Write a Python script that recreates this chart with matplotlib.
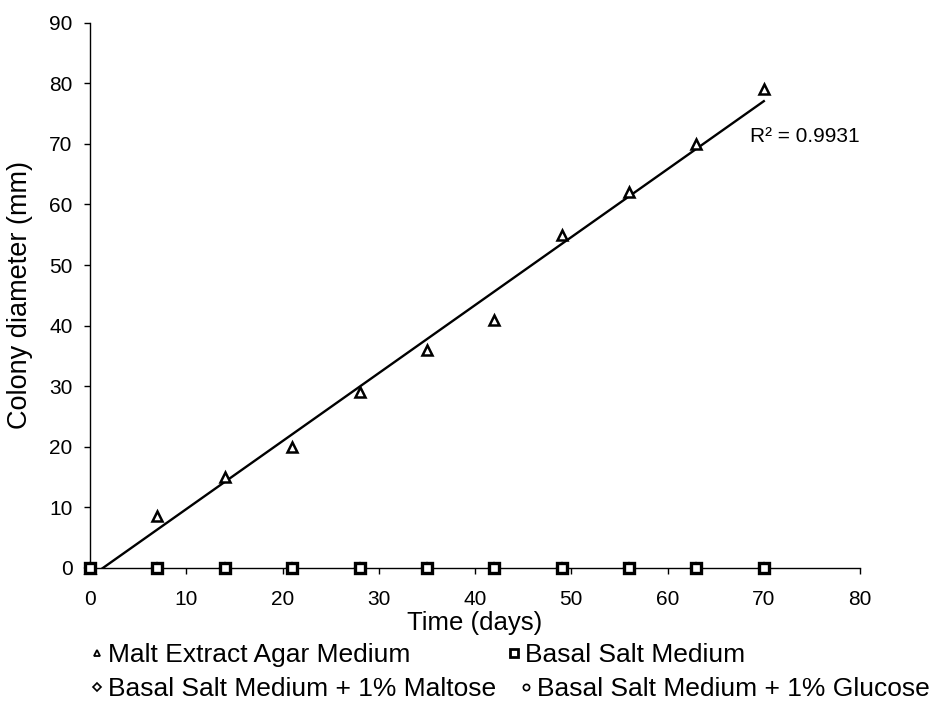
import numpy as np
import matplotlib.pyplot as plt
from matplotlib.lines import Line2D

plt.rcParams['font.family'] = ['Liberation Sans', 'DejaVu Sans']

days = [0, 7, 14, 21, 28, 35, 42, 49, 56, 63, 70]
mea = [0, 8.5, 15, 20, 29, 36, 41, 55, 62, 70, 79]
basal = [0, 0, 0, 0, 0, 0, 0, 0, 0, 0, 0]
maltose = [0, 0, 0, 0, 0, 0, 0, 0, 0, 0, 0]
glucose = [0, 0, 0, 0, 0, 0, 0, 0, 0, 0, 0]

labels = ['Malt Extract Agar Medium', 'Basal Salt Medium',
          'Basal Salt Medium + 1% Maltose', 'Basal Salt Medium + 1% Glucose']

fig = plt.figure(figsize=(9.37, 7.13), dpi=100)
ax = fig.add_axes([0.0961, 0.2034, 0.8218, 0.7648])

# linear trend line for malt extract agar
slope, intercept = np.polyfit(days, mea, 1)
tx = np.array([0, 70])
ax.plot(tx, slope * tx + intercept, color='black', lw=1.7, zorder=2)

ax.plot(days, mea, linestyle='none', marker='^', ms=7, mfc='white',
        mec='black', mew=1.8, zorder=3, clip_on=False)
ax.plot(days, maltose, linestyle='none', marker='D', ms=5, mfc='white',
        mec='black', mew=1.5, zorder=3, clip_on=False)
ax.plot(days, glucose, linestyle='none', marker='o', ms=5, mfc='white',
        mec='black', mew=1.5, zorder=3, clip_on=False)
ax.plot(days, basal, linestyle='none', marker='s', ms=7.5, mfc='white',
        mec='black', mew=2.4, zorder=4, clip_on=False)

ax.text(68.6, 70.3, 'R² = 0.9931', fontsize=15, va='baseline')

ax.set_xlim(0, 80)
ax.set_ylim(0, 90)
ax.set_xticks(range(0, 81, 10))
ax.set_yticks(range(0, 91, 10))
for s in ['top', 'right']:
    ax.spines[s].set_visible(False)
for s in ['left', 'bottom']:
    ax.spines[s].set_linewidth(1.0)
ax.tick_params(labelsize=15, length=4.5, width=1.0)
ax.tick_params(axis='x', pad=11)
ax.tick_params(axis='y', pad=8)
ax.set_xlabel('Time (days)', fontsize=18.5, va='top')
ax.xaxis.set_label_coords(0.5, -0.079)
ax.set_ylabel('Colony diameter (mm)', fontsize=19.5)
ax.yaxis.set_label_coords(-0.074, 0.5)

# legend, two rows laid out like the original
handles = [
    Line2D([], [], ls='none', marker='^', ms=5, mfc='white', mec='black', mew=1.3),
    Line2D([], [], ls='none', marker='s', ms=6, mfc='white', mec='black', mew=2.0),
    Line2D([], [], ls='none', marker='D', ms=4, mfc='white', mec='black', mew=1.2),
    Line2D([], [], ls='none', marker='o', ms=4.5, mfc='white', mec='black', mew=1.2),
]
spots = [(92, 655), (509, 655), (92, 689), (521, 689)]
for h, lab, (px, py) in zip(handles, labels, spots):
    fig.legend([h], [lab], loc='center left',
               bbox_to_anchor=(px / 937, 1 - py / 713),
               frameon=False, fontsize=19, handlelength=0.4,
               handletextpad=0.2, borderpad=0, borderaxespad=0)

fig.savefig('out.png', dpi=100)
